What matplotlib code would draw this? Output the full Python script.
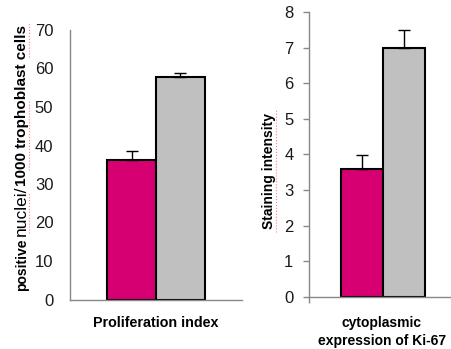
import matplotlib
matplotlib.use('Agg')
import matplotlib.pyplot as plt
from matplotlib.lines import Line2D

plt.rcParams['font.family'] = ['Liberation Sans', 'DejaVu Sans']

# data
groups = ['group 1', 'group 2']
bar_colors = ['#D70073', '#C0C0C0']

prolif_values = [36.2, 57.9]
prolif_err = [2.4, 1.0]
prolif_ticks = [0, 10, 20, 30, 40, 50, 60, 70]

stain_values = [3.6, 7.0]
stain_err = [0.38, 0.5]
stain_ticks = [0, 1, 2, 3, 4, 5, 6, 7, 8]

W, H = 452, 349
fig = plt.figure(figsize=(W / 100, H / 100), dpi=100)

def px_axes(x0, y_top, x1, y_bot):
    return fig.add_axes([x0 / W, (H - y_bot) / H, (x1 - x0) / W, (y_bot - y_top) / H])

def draw_bars(ax, values, errs):
    xs = range(len(values))
    ax.bar(xs, values, width=1.0, color=bar_colors, edgecolor='black', linewidth=1.5, zorder=2)
    ax.errorbar(xs, values, yerr=[[0] * len(errs), errs], fmt='none', ecolor='black',
                elinewidth=1.0, capsize=4, capthick=1.0, zorder=3)
    for s in ['top', 'right']:
        ax.spines[s].set_visible(False)
    for s in ['left', 'bottom']:
        ax.spines[s].set_color('#888888')
        ax.spines[s].set_linewidth(1.0)
    ax.set_xticks([])

# left panel
ax1 = px_axes(70, 30, 242, 299.5)
draw_bars(ax1, prolif_values, prolif_err)
ax1.set_xlim(-1.26, 2.26)
ax1.set_ylim(0, 70)
ax1.set_yticks(prolif_ticks)
ax1.tick_params(axis='y', length=0, pad=12, labelsize=12, labelcolor='#1a1a1a')

# right panel
ax2 = px_axes(308.7, 12, 452, 296.7)
draw_bars(ax2, stain_values, stain_err)
ax2.set_xlim(-1.26, 2.15)
ax2.set_ylim(0, 8)
ax2.set_yticks(stain_ticks)
ax2.tick_params(axis='y', length=4, width=1.0, color='#888888', pad=7,
                labelsize=12, labelcolor='#1a1a1a')
ax2.set_xticks([-1.26])
ax2.set_xticklabels([''])
ax2.tick_params(axis='x', length=4, width=1.0, color='#888888')

# x labels
fig.text(156 / W, (H - 323) / H, 'Proliferation index', ha='center', va='center',
         fontsize=10.3, fontweight='bold')
fig.text(382 / W, (H - 332) / H, 'cytoplasmic\nexpression of Ki-67', ha='center', va='center',
         fontsize=10, fontweight='bold', linespacing=1.4)

# y labels
fig.text(22 / W, (H - 291) / H, 'positive', rotation=90, ha='center', va='bottom',
         fontsize=10, fontweight='bold')
fig.text(21 / W, (H - 236) / H, 'nuclei/', rotation=90, ha='center', va='bottom',
         fontsize=12.5)
fig.text(22 / W, (H - 186) / H, '1000 trophoblast cells', rotation=90, ha='center', va='bottom',
         fontsize=11, fontweight='bold')
fig.text(269 / W, (H - 171) / H, 'Staining intensity', rotation=90, ha='center', va='center',
         fontsize=10, fontweight='bold')

# spell-check squiggles
for x, y0, y1 in [(29, 192, 233), (29, 100, 170), (29, 22, 57), (276, 110, 232)]:
    fig.add_artist(Line2D([x / W, x / W], [(H - y1) / H, (H - y0) / H], color='#ff8080',
                          linestyle=':', linewidth=0.8))

fig.savefig('out.png', dpi=100)
